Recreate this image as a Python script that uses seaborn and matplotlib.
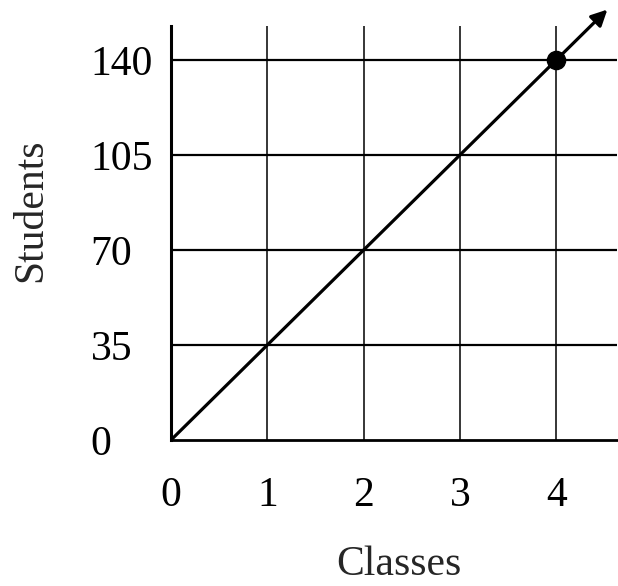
import matplotlib
matplotlib.use("Agg")
import matplotlib.pyplot as plt
import numpy as np
import pandas as pd
import seaborn as sns

# data
classes = [0, 1, 2, 3, 4]
students = [0, 35, 70, 105, 140]
x_ticks = [0, 1, 2, 3, 4]
y_ticks = [0, 35, 70, 105, 140]
highlight_class = 4
highlight_students = 140
arrow_class = 4.53  # where the arrow head ends (line keeps going)
rate = 35  # students per class

sns.set_style("white")
plt.rcParams["font.family"] = ["Liberation Serif", "DejaVu Serif"]

df = pd.DataFrame({"Classes": classes, "Students": students})

fig = plt.figure(figsize=(6.18, 5.86), dpi=100)
ax = fig.add_axes([171 / 618, 1 - 440 / 586, (617 - 171) / 618, (440 - 26) / 586])

sns.lineplot(data=df, x="Classes", y="Students", ax=ax, color="black", lw=2.3,
             solid_capstyle="butt", zorder=3)
sns.scatterplot(x=[highlight_class], y=[highlight_students], ax=ax, color="black",
                s=170, edgecolor="black", zorder=4, clip_on=False)
ax.annotate("", xy=(arrow_class, rate * arrow_class),
            xytext=(highlight_class, highlight_students),
            arrowprops=dict(arrowstyle="-|>", lw=2.3, color="black",
                            mutation_scale=24, shrinkA=0, shrinkB=0),
            annotation_clip=False, zorder=3)

ax.set_xlim(0, 4.63)
ax.set_ylim(0, 152.5)
ax.set_xticks(x_ticks)
ax.set_yticks(y_ticks)
ax.set_xticklabels([str(v) for v in x_ticks])
ax.set_yticklabels([str(v) for v in y_ticks])

for y in y_ticks[1:]:
    ax.axhline(y, color="black", lw=1.6, zorder=1)
for x in x_ticks[1:]:
    ax.axvline(x, color="black", lw=1.1, zorder=1)

for side in ["top", "right"]:
    ax.spines[side].set_visible(False)
ax.spines["left"].set_linewidth(2.2)
ax.spines["bottom"].set_linewidth(2.0)
ax.spines["left"].set_color("black")
ax.spines["bottom"].set_color("black")

ax.tick_params(axis="both", length=0, labelsize=30, colors="black")
ax.tick_params(axis="x", pad=26)
ax.tick_params(axis="y", pad=58)
for lbl in ax.get_yticklabels():
    lbl.set_horizontalalignment("left")

ax.set_xlabel("")
ax.set_ylabel("")
fig.text(398.5 / 618, 1 - 575 / 586, "Classes", fontsize=30, ha="center", va="baseline")
fig.text(31 / 618, 1 - 210 / 586, "Students", fontsize=30, ha="center", va="center",
         rotation=90)

fig.savefig("out.png", dpi=100)
